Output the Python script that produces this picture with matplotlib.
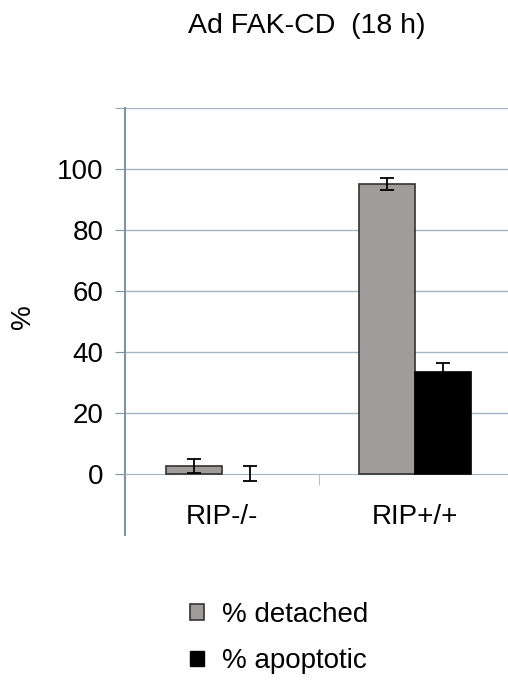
import matplotlib.pyplot as plt
from matplotlib.patches import Patch
from matplotlib.ticker import FixedLocator

plt.rcParams['font.family'] = ['Liberation Sans', 'DejaVu Sans']

# data
groups = ['RIP-/-', 'RIP+/+']
detached = [2.5, 95]
detached_err = [2.3, 2]
apoptotic = [0, 33.5]
apoptotic_err = [2.5, 3]

fig = plt.figure(figsize=(5.08, 6.83), dpi=100)
ax = fig.add_axes([0.247, 0.217, 0.76, 0.625])

x = list(range(len(groups)))
w = 0.29
grid_c = '#a3b6c2'
ekw = dict(ecolor='black', elinewidth=1.3, capthick=1.3)

ax.bar([i - w/2 for i in x], detached, w, color='#a09c9c', edgecolor='#333333', lw=1.2,
       yerr=detached_err, capsize=5, error_kw=ekw, zorder=3)
bars = ax.bar([i + w/2 for i in x], apoptotic, w, color='black', edgecolor='black', lw=1.2,
              yerr=apoptotic_err, capsize=5, error_kw=ekw, zorder=3)
for b, v in zip(bars, apoptotic):
    if v == 0:
        b.set_linewidth(0)

ax.set_xlim(-0.5, 1.5)
ax.set_ylim(-20, 120)
ax.set_yticks([0, 20, 40, 60, 80, 100])
ax.yaxis.set_minor_locator(FixedLocator([120]))
for y in [20, 40, 60, 80, 100, 120]:
    ax.axhline(y, color=grid_c, lw=1, zorder=1)

ax.set_xticks(x)
ax.set_xticklabels(groups)
ax.xaxis.set_minor_locator(FixedLocator([0.5]))
ax.tick_params(axis='x', which='major', length=0, pad=22, labelsize=20)
ax.tick_params(axis='x', which='minor', length=8, color=grid_c, direction='out')
ax.tick_params(axis='y', which='both', length=7, color='#7f93a3', labelsize=20, pad=9)

for s in ['top', 'right']:
    ax.spines[s].set_visible(False)
ax.spines['bottom'].set_position(('data', 0))
ax.spines['bottom'].set_color(grid_c)
ax.spines['left'].set_color('#7f93a3')
ax.spines['left'].set_linewidth(1.5)

fig.text(0.045, 0.536, '%', rotation=90, fontsize=20, ha='center', va='center')
fig.text(0.603, 0.962, 'Ad FAK-CD  (18 h)', fontsize=20.5, ha='center', va='center')

handles = [Patch(facecolor='#a09c9c', edgecolor='#333333', lw=1.2, label='% detached'),
           Patch(facecolor='black', edgecolor='black', label='% apoptotic')]
fig.legend(handles=handles, loc='center left', bbox_to_anchor=(0.374, 0.066),
           frameon=False, fontsize=20, handlelength=0.5, handleheight=0.5,
           handletextpad=0.65, labelspacing=0.75, borderaxespad=0, borderpad=0)

fig.savefig('out.png', dpi=100)
